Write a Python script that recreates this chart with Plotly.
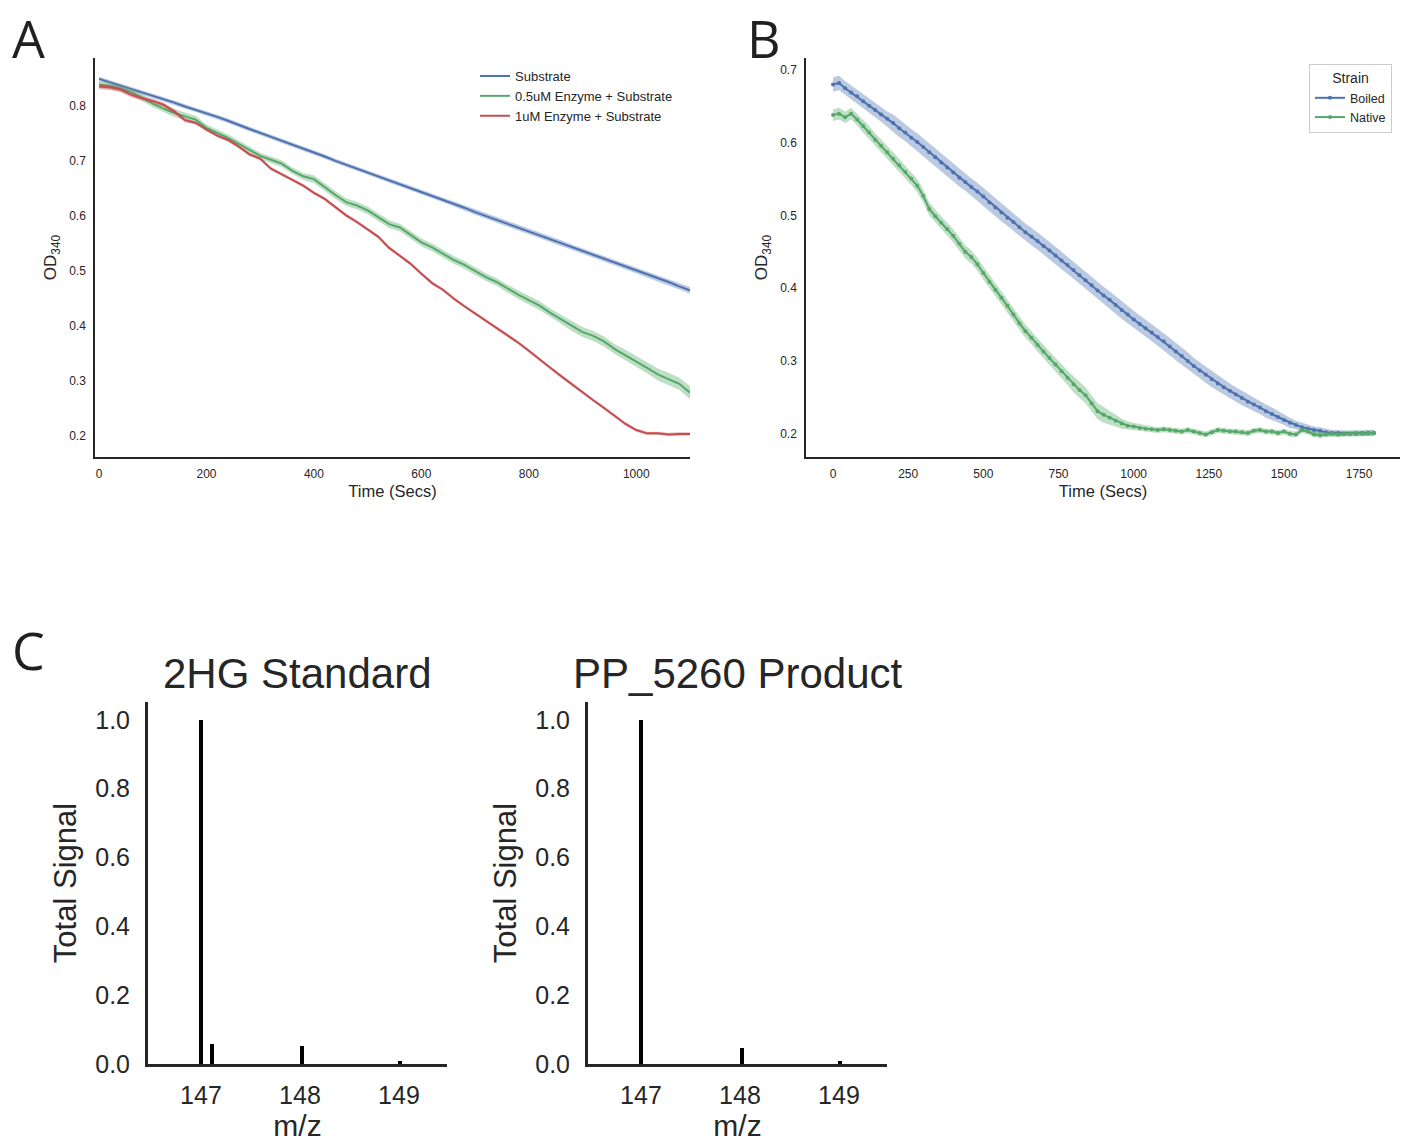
import plotly.graph_objects as go

W, H = 1401, 1145

# ---------------- Panel A data ----------------
time_a = list(range(0, 1101, 20))
substrate = [0.849, 0.843, 0.837, 0.830, 0.824, 0.818, 0.812, 0.806, 0.799, 0.793,
             0.787, 0.780, 0.773, 0.765, 0.758, 0.751, 0.744, 0.736, 0.729, 0.722,
             0.715, 0.708, 0.700, 0.693, 0.686, 0.679, 0.672, 0.664, 0.657, 0.650,
             0.643, 0.636, 0.629, 0.622, 0.615, 0.607, 0.600, 0.593, 0.586, 0.579,
             0.572, 0.565, 0.558, 0.551, 0.543, 0.536, 0.529, 0.522, 0.515, 0.508,
             0.501, 0.494, 0.487, 0.480, 0.472, 0.465]
enzyme_05 = [0.839, 0.836, 0.831, 0.825, 0.815, 0.804, 0.795, 0.787, 0.781, 0.775,
             0.760, 0.751, 0.742, 0.731, 0.720, 0.709, 0.702, 0.695, 0.682, 0.672,
             0.667, 0.652, 0.638, 0.625, 0.619, 0.610, 0.598, 0.585, 0.579, 0.565,
             0.552, 0.543, 0.531, 0.520, 0.511, 0.500, 0.489, 0.480, 0.468, 0.457,
             0.447, 0.437, 0.424, 0.412, 0.400, 0.389, 0.382, 0.372, 0.358, 0.347,
             0.336, 0.324, 0.312, 0.304, 0.295, 0.279]
enzyme_1 = [0.835, 0.834, 0.830, 0.820, 0.814, 0.809, 0.802, 0.790, 0.774, 0.769,
            0.757, 0.746, 0.738, 0.726, 0.712, 0.704, 0.686, 0.676, 0.666, 0.655,
            0.642, 0.631, 0.616, 0.601, 0.589, 0.576, 0.562, 0.542, 0.528, 0.513,
            0.495, 0.478, 0.466, 0.450, 0.436, 0.423, 0.409, 0.396, 0.383, 0.370,
            0.355, 0.339, 0.324, 0.309, 0.294, 0.280, 0.265, 0.251, 0.237, 0.222,
            0.211, 0.205, 0.205, 0.203, 0.204, 0.204]
ci_substrate = [0.004, 0.004, 0.004, 0.004, 0.004, 0.004, 0.004, 0.004, 0.004, 0.004,
                0.004, 0.004, 0.004, 0.004, 0.004, 0.004, 0.004, 0.004, 0.004, 0.004,
                0.004, 0.004, 0.004, 0.004, 0.004, 0.004, 0.004, 0.004, 0.004, 0.004,
                0.004, 0.004, 0.004, 0.004, 0.005, 0.005, 0.005, 0.005, 0.005, 0.005,
                0.005, 0.005, 0.005, 0.005, 0.005, 0.005, 0.005, 0.005, 0.005, 0.005,
                0.005, 0.006, 0.006, 0.006, 0.006, 0.006]
ci_05 = [0.006, 0.006, 0.006, 0.006, 0.006, 0.006, 0.006, 0.007, 0.007, 0.007,
         0.006, 0.006, 0.006, 0.006, 0.006, 0.006, 0.006, 0.006, 0.006, 0.006,
         0.007, 0.007, 0.007, 0.007, 0.007, 0.007, 0.007, 0.007, 0.007, 0.007,
         0.007, 0.007, 0.007, 0.007, 0.007, 0.007, 0.007, 0.007, 0.007, 0.008,
         0.008, 0.008, 0.008, 0.008, 0.009, 0.009, 0.009, 0.009, 0.009, 0.010,
         0.010, 0.010, 0.011, 0.011, 0.011, 0.012]
ci_1 = [0.005, 0.005, 0.005, 0.005, 0.004, 0.004, 0.004, 0.004, 0.004, 0.003,
        0.003, 0.003, 0.003, 0.003, 0.003, 0.003, 0.003, 0.003, 0.003, 0.003,
        0.003, 0.003, 0.003, 0.003, 0.003, 0.003, 0.003, 0.003, 0.003, 0.003,
        0.003, 0.003, 0.003, 0.003, 0.003, 0.003, 0.003, 0.003, 0.003, 0.003,
        0.003, 0.003, 0.003, 0.003, 0.003, 0.003, 0.003, 0.003, 0.003, 0.003,
        0.003, 0.003, 0.003, 0.003, 0.003, 0.003]
names_a = ["Substrate", "0.5uM Enzyme + Substrate", "1uM Enzyme + Substrate"]
ticks_a_x = [0, 200, 400, 600, 800, 1000]
ticks_a_y = [0.2, 0.3, 0.4, 0.5, 0.6, 0.7, 0.8]

# ---------------- Panel B data ----------------
time_b = list(range(0, 1801, 20))
boiled = [0.680, 0.682, 0.675, 0.669, 0.664, 0.657, 0.651, 0.645, 0.639, 0.633,
          0.627, 0.620, 0.614, 0.607, 0.601, 0.594, 0.587, 0.580, 0.573, 0.566,
          0.559, 0.552, 0.546, 0.539, 0.533, 0.526, 0.518, 0.511, 0.504, 0.497,
          0.491, 0.484, 0.477, 0.471, 0.465, 0.458, 0.452, 0.445, 0.438, 0.432,
          0.425, 0.418, 0.411, 0.404, 0.397, 0.390, 0.384, 0.377, 0.370, 0.364,
          0.357, 0.351, 0.345, 0.339, 0.333, 0.327, 0.320, 0.313, 0.307, 0.300,
          0.293, 0.287, 0.281, 0.275, 0.269, 0.264, 0.259, 0.254, 0.249, 0.244,
          0.240, 0.236, 0.231, 0.227, 0.223, 0.219, 0.215, 0.212, 0.209, 0.207,
          0.205, 0.204, 0.202, 0.201, 0.201, 0.200, 0.200, 0.200, 0.201, 0.201,
          0.201]
native = [0.638, 0.640, 0.635, 0.640, 0.632, 0.623, 0.614, 0.604, 0.596, 0.587,
          0.578, 0.569, 0.560, 0.551, 0.541, 0.527, 0.509, 0.499, 0.490, 0.481,
          0.472, 0.461, 0.450, 0.443, 0.433, 0.421, 0.409, 0.398, 0.387, 0.376,
          0.364, 0.352, 0.341, 0.332, 0.322, 0.313, 0.304, 0.295, 0.286, 0.277,
          0.268, 0.260, 0.253, 0.242, 0.231, 0.226, 0.222, 0.218, 0.214, 0.211,
          0.210, 0.208, 0.207, 0.206, 0.205, 0.206, 0.205, 0.204, 0.203, 0.205,
          0.203, 0.201, 0.199, 0.202, 0.205, 0.204, 0.203, 0.203, 0.202, 0.201,
          0.204, 0.205, 0.203, 0.203, 0.201, 0.203, 0.200, 0.199, 0.205, 0.203,
          0.199, 0.198, 0.199, 0.200, 0.199, 0.200, 0.200, 0.201, 0.200, 0.201,
          0.201]
ci_boiled = [0.010, 0.010, 0.010, 0.010, 0.010, 0.010, 0.010, 0.010, 0.010, 0.010,
             0.012, 0.012, 0.012, 0.012, 0.012, 0.012, 0.012, 0.012, 0.012, 0.012,
             0.012, 0.012, 0.012, 0.012, 0.012, 0.012, 0.012, 0.012, 0.012, 0.012,
             0.012, 0.012, 0.012, 0.012, 0.012, 0.012, 0.012, 0.012, 0.012, 0.012,
             0.012, 0.012, 0.012, 0.012, 0.012, 0.012, 0.012, 0.012, 0.012, 0.012,
             0.012, 0.012, 0.012, 0.012, 0.012, 0.012, 0.012, 0.012, 0.012, 0.012,
             0.011, 0.011, 0.011, 0.011, 0.011, 0.010, 0.010, 0.010, 0.010, 0.010,
             0.009, 0.009, 0.009, 0.009, 0.008, 0.007, 0.007, 0.006, 0.006, 0.006,
             0.005, 0.005, 0.005, 0.004, 0.004, 0.004, 0.004, 0.004, 0.004, 0.004,
             0.004]
ci_native = [0.008, 0.008, 0.008, 0.008, 0.008, 0.009, 0.009, 0.009, 0.009, 0.009,
             0.009, 0.009, 0.009, 0.009, 0.009, 0.009, 0.009, 0.009, 0.009, 0.009,
             0.009, 0.009, 0.009, 0.009, 0.009, 0.009, 0.009, 0.009, 0.009, 0.009,
             0.009, 0.009, 0.009, 0.009, 0.009, 0.009, 0.009, 0.009, 0.010, 0.010,
             0.011, 0.011, 0.011, 0.011, 0.011, 0.011, 0.009, 0.008, 0.007, 0.006,
             0.005, 0.005, 0.004, 0.004, 0.004, 0.004, 0.004, 0.004, 0.004, 0.004,
             0.004, 0.004, 0.004, 0.004, 0.004, 0.004, 0.004, 0.004, 0.004, 0.004,
             0.004, 0.004, 0.004, 0.004, 0.004, 0.004, 0.004, 0.004, 0.004, 0.004,
             0.004, 0.004, 0.004, 0.004, 0.004, 0.004, 0.004, 0.004, 0.004, 0.004,
             0.004]
names_b = ["Boiled", "Native"]
ticks_b_x = [0, 250, 500, 750, 1000, 1250, 1500, 1750]
ticks_b_y = [0.2, 0.3, 0.4, 0.5, 0.6, 0.7]

# ---------------- Panel C data ----------------
mz_std = [147.0, 147.11, 148.02, 149.01]
signal_std = [1.0, 0.058, 0.053, 0.010]
mz_prod = [147.0, 148.02, 149.01]
signal_prod = [1.0, 0.047, 0.008]
ticks_c_x = [147, 148, 149]
ticks_c_y = [0.0, 0.2, 0.4, 0.6, 0.8, 1.0]
titles_c = ["2HG Standard", "PP_5260 Product"]

BLUE = "#4C72B0"
GREEN = "#55A868"
RED = "#C44E52"
INK = "#262626"
FONT = "Liberation Sans, Arial, sans-serif"


def rgba(hexc, a):
    h = hexc.lstrip("#")
    return "rgba(%d,%d,%d,%.2f)" % (int(h[0:2], 16), int(h[2:4], 16), int(h[4:6], 16), a)


def px_x(p):
    return p / W


def px_y(p):
    return 1 - p / H


fig = go.Figure()


def band(x, y, ci, color, xa, ya):
    upper = [v + c for v, c in zip(y, ci)]
    lower = [v - c for v, c in zip(y, ci)]
    fig.add_trace(go.Scatter(x=list(x) + list(x)[::-1], y=upper + lower[::-1],
                             fill="toself", fillcolor=rgba(color, 0.38),
                             line=dict(width=0), mode="lines", hoverinfo="skip",
                             showlegend=False, xaxis=xa, yaxis=ya))


# Panel A
for y, ci, c, n in zip([substrate, enzyme_05, enzyme_1], [ci_substrate, ci_05, ci_1],
                       [BLUE, GREEN, RED], names_a):
    band(time_a, y, ci, c, "x", "y")
    fig.add_trace(go.Scatter(x=time_a, y=y, mode="lines", name=n,
                             line=dict(color=c, width=2), legend="legend",
                             xaxis="x", yaxis="y"))

# Panel B
for y, ci, c, n in zip([boiled, native], [ci_boiled, ci_native], [BLUE, GREEN], names_b):
    band(time_b, y, ci, c, "x2", "y2")
    fig.add_trace(go.Scatter(x=time_b, y=y, mode="lines+markers", name=n,
                             line=dict(color=c, width=2), marker=dict(size=4, color=c),
                             legend="legend2", xaxis="x2", yaxis="y2"))

# Panel C
fig.add_trace(go.Bar(x=mz_std, y=signal_std, width=0.04, marker=dict(color="black", line=dict(width=0)),
                     showlegend=False, xaxis="x3", yaxis="y3"))
fig.add_trace(go.Bar(x=mz_prod, y=signal_prod, width=0.04, marker=dict(color="black", line=dict(width=0)),
                     showlegend=False, xaxis="x4", yaxis="y4"))

small_axis = dict(showline=True, linecolor=INK, linewidth=1.5, showgrid=False, zeroline=False,
                  ticks="outside", tickcolor="rgba(0,0,0,0)", ticklen=5, automargin=False,
                  tickfont=dict(size=12, color=INK, family=FONT))
big_axis = dict(showline=True, linecolor=INK, linewidth=3, showgrid=False, zeroline=False,
                ticks="outside", tickcolor="rgba(0,0,0,0)", automargin=False,
                tickfont=dict(size=25, color=INK, family=FONT))

dom_top = [px_y(457), px_y(58)]
dom_bot = [px_y(1064), px_y(702)]

fig.update_layout(
    width=W, height=H, margin=dict(l=0, r=0, t=0, b=0),
    paper_bgcolor="white", plot_bgcolor="white",
    font=dict(family=FONT, color=INK),
    bargap=0,
    xaxis=dict(small_axis, domain=[px_x(95), px_x(690)], range=[-7.5, 1100], anchor="y",
               tickvals=ticks_a_x,
               title=dict(text="Time (Secs)", font=dict(size=16.5, color=INK), standoff=5)),
    yaxis=dict(small_axis, domain=dom_top, range=[0.162, 0.887], anchor="x",
               tickvals=ticks_a_y, tickformat=".1f",
               title=dict(text="OD<sub>340</sub>", font=dict(size=17, color=INK), standoff=8)),
    xaxis2=dict(small_axis, domain=[px_x(806), px_x(1400)], range=[-90, 1886], anchor="y2",
                tickvals=ticks_b_x,
                title=dict(text="Time (Secs)", font=dict(size=16.5, color=INK), standoff=5)),
    yaxis2=dict(small_axis, domain=dom_top, range=[0.168, 0.7165], anchor="x2",
                tickvals=ticks_b_y, tickformat=".1f",
                title=dict(text="OD<sub>340</sub>", font=dict(size=17, color=INK), standoff=8)),
    xaxis3=dict(big_axis, domain=[px_x(148), px_x(447)], range=[146.465, 149.485], anchor="y3",
                tickvals=ticks_c_x, ticklen=7,
                title=dict(text="m/z", font=dict(size=30, color=INK), standoff=2)),
    yaxis3=dict(big_axis, domain=dom_bot, range=[0, 1.052], anchor="x3",
                tickvals=ticks_c_y, tickformat=".1f", ticklen=10,
                title=dict(text="Total Signal", font=dict(size=31, color=INK), standoff=10)),
    xaxis4=dict(big_axis, domain=[px_x(588), px_x(887)], range=[146.465, 149.485], anchor="y4",
                tickvals=ticks_c_x, ticklen=7,
                title=dict(text="m/z", font=dict(size=30, color=INK), standoff=2)),
    yaxis4=dict(big_axis, domain=dom_bot, range=[0, 1.052], anchor="x4",
                tickvals=ticks_c_y, tickformat=".1f", ticklen=10,
                title=dict(text="Total Signal", font=dict(size=31, color=INK), standoff=10)),
    legend=dict(x=px_x(475), y=px_y(61), xanchor="left", yanchor="top",
                bgcolor="rgba(0,0,0,0)", borderwidth=0,
                font=dict(size=13, color=INK, family=FONT), tracegroupgap=0),
    legend2=dict(x=px_x(1309), y=px_y(64), xanchor="left", yanchor="top",
                 bgcolor="white", bordercolor="#cccccc", borderwidth=1,
                 title=dict(text="Strain", side="top center", font=dict(size=14, color=INK)),
                 font=dict(size=12.5, color=INK, family=FONT)),
)

# panel letters and panel C titles
for letter, x, y in [("A", 10, 0), ("B", 745, 0), ("C", 10, 612)]:
    fig.add_annotation(text=letter, x=px_x(x), y=px_y(y), xref="paper", yref="paper",
                       xanchor="left", yanchor="top", showarrow=False,
                       font=dict(size=52, family="Open Sans, Noto Sans, sans-serif", color="#231F20"))
for title, cx in zip(titles_c, [297.5, 737.5]):
    fig.add_annotation(text=title, x=px_x(cx), y=px_y(673), xref="paper", yref="paper",
                       xanchor="center", yanchor="middle", showarrow=False,
                       font=dict(size=42, family=FONT, color=INK))

fig.write_html("out.html")
